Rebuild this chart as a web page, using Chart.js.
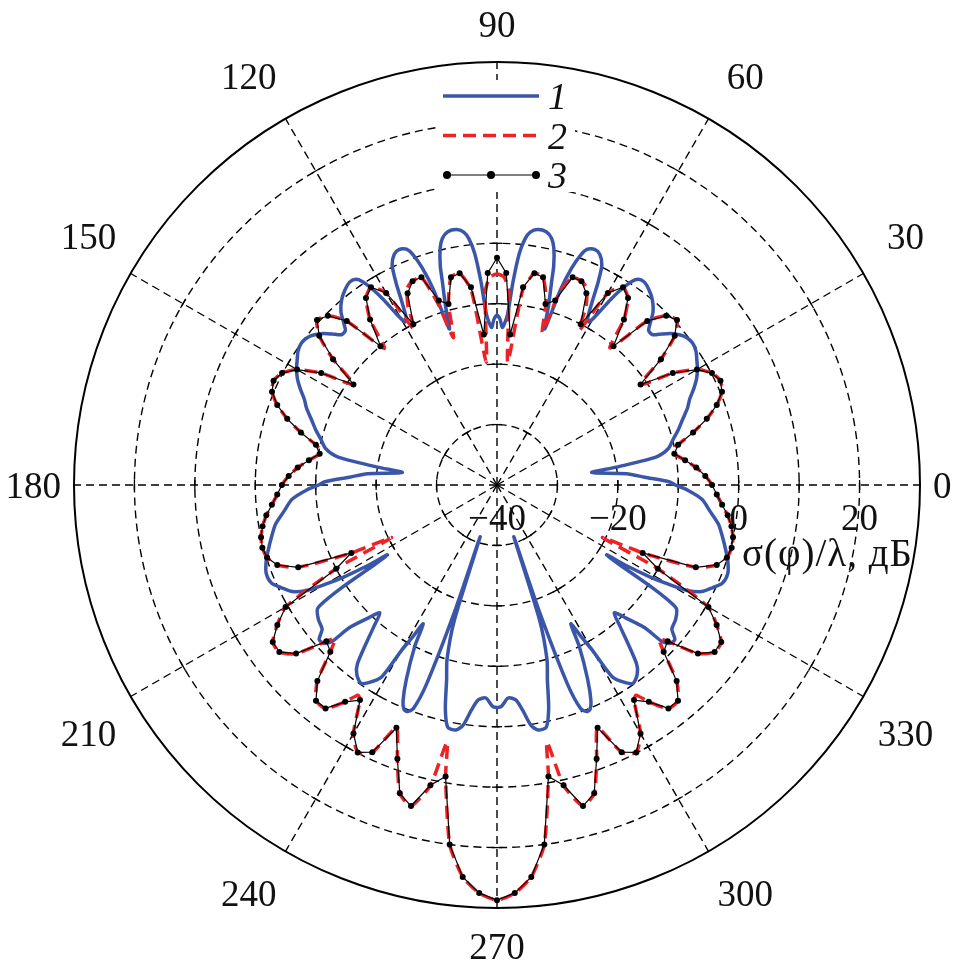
<!DOCTYPE html>
<html>
<head>
<meta charset="utf-8">
<script src="https://cdn.jsdelivr.net/npm/chart.js@4.4.1/dist/chart.umd.min.js"></script>
<style>
html,body{margin:0;padding:0;background:#ffffff;}
canvas{display:block;}
</style>
</head>
<body>
<canvas id="c" width="956" height="971"></canvas>
<script>
// ---------------- data ----------------
const angleTicks = [0, 30, 60, 90, 120, 150, 180, 210, 240, 270, 300, 330];
const radialTickLabels = [-40, -20, 0, 20];
const axisTitle = 'σ(φ)/λ, дБ';
const seriesNames = ['1', '2', '3'];

// series 1 (blue, solid): [angle deg, dB]
const series1 = [
  [0,-10.5],[1,-11.4],[3,-15.5],[5,-18.5],[7.5,-24.2],[8.5,-20],[10,-13.2],[12,-11],[14.5,-9.9],[17,-8.6],
  [19.5,-7.4],[22,-6],[24,-5.1],[26,-3.8],[28,-2.6],[30,-1.7],[32,-1],[34,-0.3],[36,0],[38,-0.3],
  [39.5,-0.9],[41,-1.8],[42.5,-3],[44,-4.2],[45.5,-4.2],[46.5,-3.2],[48,-1.4],[50,0],[52,0.9],[54,1.5],
  [55.5,1.3],[56.5,0.4],[57.5,-1.5],[58.5,-4],[59.5,-7],[60.5,-9],[61.5,-8.5],[62.5,-6],[63.5,-2.5],[64.5,0.3],
  [66,1.8],[67.5,2.2],[69,1.8],[70,0.5],[71,-2],[72,-6],[73,-13],[74,-9],[75,-5],[75.5,-2.5],
  [76.5,0.3],[77.5,1.8],[79,2.7],[81,2.8],[82.5,2.2],[83.5,1],[84.5,-1.5],[85.5,-6.3],[86.5,-11.8],[88,-13.9],
  [89,-12.5],[90,-11.9],[91,-12.5],[92,-13.9],[93.5,-11.8],[94.5,-6.3],[95.5,-1.5],[96.5,1],[97.5,2.2],[99,2.8],
  [101,2.7],[102.5,1.8],[103.5,0.3],[104.5,-2.5],[105,-5],[106,-9],[107,-13],[108,-6],[109,-2],[110,0.5],
  [111,1.8],[112.5,2.2],[114,1.8],[115.5,0.3],[116.5,-2.5],[117.5,-6],[118.5,-8.5],[119.5,-9],[120.5,-7],[121.5,-4],
  [122.5,-1.5],[123.5,0.4],[124.5,1.3],[126,1.5],[128,0.9],[130,0],[132,-1.4],[133.5,-3.2],[134.5,-4.2],[136,-4.2],
  [137.5,-3],[139,-1.8],[140.5,-0.9],[142,-0.3],[144,0],[146,-0.3],[148,-1],[150,-1.7],[152,-2.6],[154,-3.8],
  [156,-5.1],[158,-6],[160.5,-7.4],[163,-8.6],[165.5,-9.9],[168,-11],[170,-13.2],[171.5,-20],[172.5,-24.2],[175,-18.5],
  [177,-15.5],[179,-11.4],[180,-10.5],[181.5,-8.5],[184,-6],[187,-4.5],[190,-2.8],[193,-1.7],[196,-0.6],[198.5,0.3],
  [201,0.9],[203.5,0.7],[205.5,-0.5],[207.5,-1.8],[209,-4],[210,-7],[211,-10.5],[212,-15],[212.5,-18.5],[213,-16],
  [213.5,-9],[214.5,-4],[217,-3],[219.5,-2.5],[221,-1],[222.5,-1.2],[223.5,-2.5],[224,-6],[226,-9.5],[227.5,-11.3],
  [229,-8.9],[232,-2.5],[233.5,-1],[235.5,-0.2],[237,-1],[239,-3],[240,-8.4],[241,-11.3],[242,-14],[243,-10],
  [245,-4.5],[246.5,-1],[247.5,0.2],[248.5,0.3],[249.5,-0.5],[250.5,-5],[251.5,-18],[252,-31],[252.5,-16.5],[254,-10],
  [255.5,-6.7],[257,-2],[258.5,0.9],[260.5,1.1],[262,0.1],[263.5,-2.5],[265,-4.3],[267,-4.7],[269,-3.3],[271,-3.3],
  [273,-4.7],[275,-4.3],[276.5,-2.5],[278,0.1],[279.5,1.1],[281.5,0.9],[283,-2],[284.5,-6.7],[286,-10],[287.5,-16.5],
  [288,-31],[288.5,-18],[289.5,-5],[290.5,-0.5],[291.5,0.3],[292.5,0.2],[293.5,-1],[295,-4.5],[297,-10],[298,-14],
  [299,-11.3],[300,-8.4],[301,-3],[303,-1],[304.5,-0.2],[306.5,-1],[308,-2.5],[311,-8.9],[312.5,-11.3],[314,-9.5],
  [316,-6],[316.5,-2.5],[317.5,-1.2],[319,-1],[320.5,-2.5],[323,-3],[325.5,-4],[326.5,-9],[327,-16],[327.5,-18.5],
  [328,-15],[329,-10.5],[330,-7],[331,-4],[332.5,-1.8],[334.5,-0.5],[336.5,0.7],[339,0.9],[341.5,0.3],[344,-0.6],
  [347,-1.7],[350,-2.8],[353,-4.5],[356,-6],[358.5,-8.5]
];

// series 2 (red, dashed): [angle deg, dB]
const series2 = [
  [0,-4.4],[2.5,-5.5],[5,-6.9],[7.5,-8.6],[10.5,-10.5],[12.5,-9.3],[15,-6.4],[17.5,-3.6],[20,-1.3],[22.5,0.3],
  [25,0.8],[27.5,0.1],[30,-1.8],[32.5,-5.5],[35,-11.1],[37.5,-5.8],[40,-1.6],[42.5,0.4],[45,-0.4],[47.5,-3.2],
  [50.5,-10.6],[52.5,-5.5],[55,-2.2],[57.5,-1.2],[60,-3.3],[62,-11],[63.5,-7],[65.5,-4.2],[67.5,-3.5],[70,-3.4],
  [72,-6.5],[73.5,-13.6],[75,-8.5],[77.5,-4.8],[80,-4.4],[82.5,-7.5],[85,-19.6],[86.5,-8],[88,-5.6],[90,-5.1],
  [92,-5.6],[93.5,-8],[95,-19.6],[97.5,-7.5],[100,-4.4],[102.5,-4.8],[105,-9],[106.5,-14.6],[108,-8.5],[110,-3.4],
  [112.5,-3.5],[114.5,-4.2],[116.5,-7],[118,-11],[120,-3.3],[122.5,-1.2],[125,-2.2],[127.5,-5.5],[129.5,-10.7],[132.5,-3.2],
  [135,-0.4],[137.5,0.4],[140,-1.6],[142.5,-5.8],[145,-11.1],[147.5,-5.5],[150,-1.8],[152.5,0.1],[155,0.8],[157.5,0.3],
  [160,-1.3],[162.5,-3.6],[165,-6.4],[167.5,-9.3],[169.5,-10.5],[172.5,-8.6],[175,-6.9],[177.5,-5.5],[180,-4.4],[182.5,-3.6],
  [185,-2.6],[187.5,-1.5],[190,-0.6],[192.5,0],[195,0.2],[197.5,-0.1],[200,-1.3],[202.5,-4.4],[205,-13.4],[206.5,-20.5],
  [207.5,-10],[210,0.4],[212.5,3.1],[215,5.3],[217.5,5.4],[220,3.4],[222.5,-1.7],[223.5,-3],[225,-1],[227.5,4],
  [230,6.6],[232.5,6.6],[235,3.8],[236.5,1.7],[237.5,2.2],[240,7.5],[242.5,9.9],[245,8.8],[247.5,3.5],[250,8.2],
  [252.5,13.5],[255,15],[257.5,10.9],[259,3.3],[260,9],[262.5,20],[265,25.1],[267.5,27.6],[270,28.7],[272.5,27.6],
  [275,25.1],[277.5,20],[280,9],[281,3.3],[282.5,10.9],[285,15],[287.5,13.5],[290,8.2],[292.5,3.5],[295,8.8],
  [297.5,9.9],[300,7.5],[302.5,2.2],[303.5,1.7],[305,3.8],[307.5,6.6],[310,6.6],[312.5,4],[315,-1],[316.5,-3],
  [317.5,-1.7],[320,3.4],[322.5,5.4],[325,5.3],[327.5,3.1],[330,0.4],[332.5,-10],[333.5,-20.5],[335,-13.4],[337.5,-4.4],
  [340,-1.3],[342.5,-0.1],[345,0.2],[347.5,0],[350,-0.6],[352.5,-1.5],[355,-2.6],[357.5,-3.6]
];

// series 3 (black, markers every 2.5 deg starting at 0 deg)
const series3Step = 2.5;
const series3 = [
  -4.4,-5.5,-6.9,-8.6,-10.2,-9.3,-6.4,-3.6,-1.3,0.3,
  0.8,0.1,-1.8,-5.5,-11,-5.8,-1.6,0.4,-0.4,-3.2,
  -10,-5.5,-2.2,-1.2,-3.3,-10,-5,-3.5,-3.4,-8,
  -9,-4.8,-4.4,-7,-15,-4.9,-2.4,-4.9,-15,-7,
  -4.4,-4.8,-9,-8,-3.4,-3.5,-5,-10,-3.3,-1.2,
  -2.2,-5.5,-10,-3.2,-0.4,0.4,-1.6,-5.8,-11,-5.5,
  -1.8,0.1,0.8,0.3,-1.3,-3.6,-6.4,-9.3,-10.2,-8.6,
  -6.9,-5.5,-4.4,-3.6,-2.6,-1.5,-0.6,0,0.2,-0.1,
  -1.3,-4.4,-13.4,-10,0.4,3.1,5.3,5.4,3.4,-1.7,
  -1,4,6.6,6.6,3.8,2.2,7.5,9.9,8.8,3.5,
  8.2,13.5,15,10.9,9,20,25.1,27.6,28.7,27.6,
  25.1,20,9,10.9,15,13.5,8.2,3.5,8.8,9.9,
  7.5,2.2,3.8,6.6,6.6,4,-1,-1.7,3.4,5.4,
  5.3,3.1,0.4,-10,-13.4,-4.4,-1.3,-0.1,0.2,0,
  -0.6,-1.5,-2.6,-3.6
];

// ---------------- build radar tables ----------------
const STEP = 0.5;
const N = Math.round(360 / STEP);
const labels = [];
for (let i = 0; i < N; i++) labels.push(((90 - i * STEP) % 360 + 360) % 360);
function idxOf(phi) {
  return Math.round((((90 - phi) % 360 + 360) % 360) / STEP) % N;
}
function fromPairs(pairs) {
  const a = new Array(N).fill(null);
  pairs.forEach(([p, v]) => { a[idxOf(p)] = v; });
  return a;
}
const data3 = new Array(N).fill(null);
series3.forEach((v, k) => { data3[idxOf(k * series3Step)] = v; });

const BLUE = '#3a56a8';
const RED = '#ee2124';

// ---------------- plugins ----------------
const FONT = '"Liberation Serif", "Times New Roman", serif';

const gridMarks = {
  id: 'gridMarks',
  beforeDatasetsDraw(chart) {
    const s = chart.scales.r, ctx = chart.ctx;
    ctx.save();
    ctx.strokeStyle = '#000';
    ctx.lineWidth = 1.3;
    angleTicks.forEach(a => {
      const idx = idxOf(a);
      for (let v = s.min + 10; v < s.max; v += 10) {
        const d = s.getDistanceFromCenterForValue(v);
        const p = s.getPointPosition(idx, d);
        const ang = Math.atan2(p.y - s.yCenter, p.x - s.xCenter);
        const px = -Math.sin(ang) * 5, py = Math.cos(ang) * 5;
        ctx.beginPath();
        ctx.moveTo(p.x - px, p.y - py);
        ctx.lineTo(p.x + px, p.y + py);
        ctx.stroke();
      }
    });
    ctx.restore();
  },
  afterDraw(chart) {
    const s = chart.scales.r, ctx = chart.ctx;
    ctx.save();
    ctx.fillStyle = '#111';
    ctx.font = '37px ' + FONT;
    ctx.textAlign = 'center';
    ctx.textBaseline = 'alphabetic';
    // angle labels
    angleTicks.forEach(a => {
      const txt = String(a);
      const w = ctx.measureText(txt).width;
      const t = a * Math.PI / 180;
      const R = (a % 90 === 0)
        ? s.drawingArea + 13 + Math.abs(Math.cos(t)) * w / 2 + 25 * Math.abs(Math.sin(t))
        : s.drawingArea + 55;
      const tt = (a + 1.5 * Math.sin(4 * t)) * Math.PI / 180;
      const x = s.xCenter + R * Math.cos(tt);
      const y = s.yCenter - R * Math.sin(tt);
      ctx.fillText(txt, x, y + 12.5);
    });
    // radial tick labels along 0 deg
    radialTickLabels.forEach(v => {
      const d = s.getDistanceFromCenterForValue(v);
      const p = s.getPointPosition(idxOf(0), d);
      const txt = (v < 0 ? '\u2212' + Math.abs(v) : String(v));
      ctx.fillText(txt, p.x, p.y + 45);
    });
    ctx.textAlign = 'left';
    ctx.font = '39px ' + FONT;
    try { ctx.letterSpacing = '1px'; } catch (e) {}
    ctx.fillText(axisTitle, s.xCenter + 245, s.yCenter + 81);
    try { ctx.letterSpacing = '0px'; } catch (e) {}

    // legend
    ctx.fillStyle = '#fff';
    ctx.fillRect(437, 80, 138, 112);
    chart.data.datasets.forEach((ds, i) => {
      const y = 96 + i * 39.5;
      ctx.strokeStyle = ds.borderColor;
      ctx.lineWidth = ds.borderWidth;
      ctx.setLineDash(ds.borderDash || []);
      ctx.lineCap = 'butt';
      ctx.beginPath(); ctx.moveTo(443, y); ctx.lineTo(539, y); ctx.stroke();
      ctx.setLineDash([]);
      if (ds.pointRadius > 0) {
        ctx.fillStyle = ds.pointBackgroundColor;
        [447, 491, 536].forEach(x => { ctx.beginPath(); ctx.arc(x, y, 4, 0, Math.PI * 2); ctx.fill(); });
      }
      ctx.fillStyle = '#111';
      ctx.font = 'italic 38px ' + FONT;
      ctx.fillText(ds.label, 548, y + 13);
    });
    ctx.restore();
  }
};

new Chart(document.getElementById('c'), {
  type: 'radar',
  data: {
    labels: labels,
    datasets: [
      { label: seriesNames[0], data: fromPairs(series1), borderColor: BLUE, borderWidth: 3.5,
        pointRadius: 0, fill: false, spanGaps: true, tension: 0.25, order: 3 },
      { label: seriesNames[1], data: fromPairs(series2), borderColor: RED, borderWidth: 3.5, borderDash: [13, 7],
        pointRadius: 0, fill: false, spanGaps: true, tension: 0.2, order: 2 },
      { label: seriesNames[2], data: data3, borderColor: '#000', borderWidth: 1.2,
        pointRadius: 3, pointBackgroundColor: '#000', pointBorderColor: '#000', pointBorderWidth: 0,
        fill: false, spanGaps: true, tension: 0, order: 1 }
    ]
  },
  options: {
    responsive: false,
    animation: false,
    devicePixelRatio: 1,
    layout: { padding: { left: 74, right: 36, top: 62, bottom: 63 } },
    plugins: { legend: { display: false }, tooltip: { enabled: false } },
    elements: { line: { capBezierPoints: false } },
    scales: {
      r: {
        min: -40, max: 30,
        startAngle: 0,
        ticks: { display: false, stepSize: 10 },
        pointLabels: { display: false },
        grid: {
          circular: true,
          color: '#000',
          lineWidth: c => (c.tick && c.tick.value === 30 ? 2 : 1.4)
        },
        border: { dash: c => (c.tick && c.tick.value === 30 ? [] : [8, 5]) },
        angleLines: {
          color: '#000',
          lineWidth: c => (angleTicks.includes(labels[c.index]) ? 1.4 : 0),
          borderDash: [8, 5]
        }
      }
    }
  },
  plugins: [gridMarks]
});
</script>
</body>
</html>
